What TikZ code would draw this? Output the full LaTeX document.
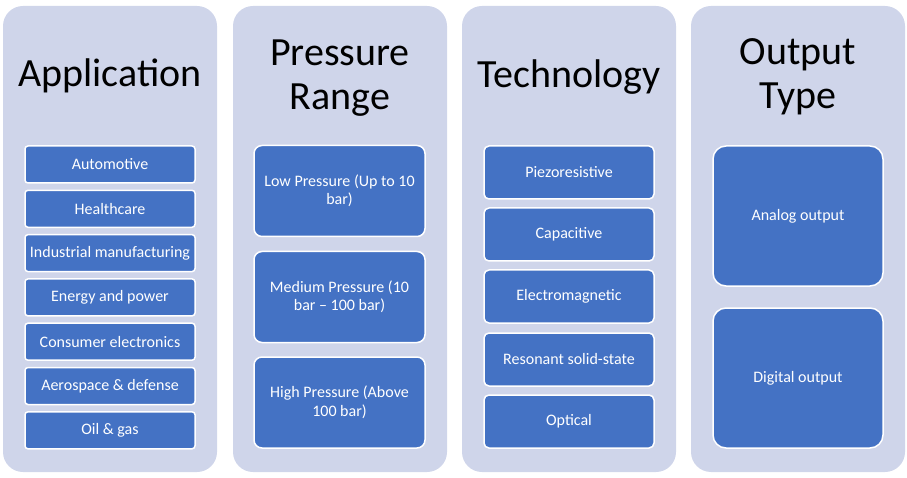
\documentclass[tikz,border=0pt]{standalone}
\usepackage{fontspec}
\setmainfont{Carlito}
\definecolor{lav}{HTML}{CFD5EA}
\definecolor{blu}{HTML}{4472C4}
\tikzset{
  col/.style={fill=lav, rounded corners=20pt, minimum width=214pt, minimum height=466pt, inner sep=0pt, draw=none},
  hdr/.style={text=black, align=center, font=\fontsize{40}{43.5}\selectfont, inner sep=0pt},
  box/.style={fill=blu, draw=white, line width=1.5pt, text=white, align=center, inner sep=2pt,
    font=\fontsize{16}{18.5}\selectfont},
  abox/.style={box, rounded corners=3pt, minimum width=170pt, minimum height=37pt},
  pbox/.style={box, rounded corners=8pt, minimum width=171pt, minimum height=91pt},
  tbox/.style={box, rounded corners=5pt, minimum width=170pt, minimum height=53pt},
  obox/.style={box, rounded corners=13pt, minimum width=170pt, minimum height=140pt}
}
\begin{document}
\begin{tikzpicture}[x=1pt, y=-1pt]
\useasboundingbox (0,0) rectangle (907,478);
% columns
\node[col] (c1) at (110,239) {};
\node[col] (c2) at (340,239) {};
\node[col] (c3) at (569,239) {};
\node[col] (c4) at (798,239) {};
% headers
\node[hdr, anchor=base] (h1) at (110,87) {Application};
\node[hdr, anchor=base] (h2) at (340,109.5) {Pressure\\Range};
\node[hdr, anchor=base] (h3) at (569,88) {Technology};
\node[hdr, anchor=base] (h4) at (798,108.5) {Output\\Type};
% application
\node[abox] (a1) at (110,164.5) {Automotive};
\node[abox] (a2) at (110,208.8) {Healthcare};
\node[abox] (a3) at (110,253.1) {Industrial manufacturing};
\node[abox] (a4) at (110,297.4) {Energy and power};
\node[abox] (a5) at (110,341.7) {Consumer electronics};
\node[abox] (a6) at (110,386) {Aerospace \& defense};
\node[abox] (a7) at (110,430.3) {Oil \& gas};
% pressure range
\node[pbox] (p1) at (339.5,191) {Low Pressure (Up to 10\\bar)};
\node[pbox] (p2) at (339.5,297) {Medium Pressure (10\\bar – 100 bar)};
\node[pbox] (p3) at (339.5,402.5) {High Pressure (Above\\100 bar)};
% technology
\node[tbox] (t1) at (569,172.5) {Piezoresistive};
\node[tbox] (t2) at (569,234.5) {Capacitive};
\node[tbox] (t3) at (569,296.5) {Electromagnetic};
\node[tbox] (t4) at (569,359.5) {Resonant solid-state};
\node[tbox] (t5) at (569,421.5) {Optical};
% output
\node[obox] (o1) at (798,216) {Analog output};
\node[obox] (o2) at (798,378) {Digital output};
\end{tikzpicture}
\end{document}
